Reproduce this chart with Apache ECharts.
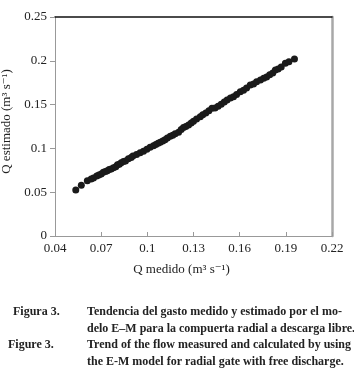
<!DOCTYPE html>
<html>
<head>
<meta charset="utf-8">
<script src="https://cdn.jsdelivr.net/npm/echarts@6/dist/echarts.min.js"></script>
<style>
  html, body { margin: 0; padding: 0; background: #fff; }
  #chart { width: 354px; height: 374px; }
</style>
</head>
<body>
<div id="chart"></div>
<script>
// Q medido (m3/s) - eje x
var qMedido = [0.0535, 0.0571, 0.0610, 0.0635, 0.0650, 0.0671, 0.0685, 0.0700, 0.0714, 0.0728,
  0.0740, 0.0752, 0.0765, 0.0780, 0.0795, 0.0806, 0.0818, 0.0830, 0.0845, 0.0858,
  0.0877, 0.0895, 0.0906, 0.0930, 0.0953, 0.0975, 0.0997, 0.1018, 0.1040, 0.1055,
  0.1070, 0.1084, 0.1100, 0.1115, 0.1130, 0.1149, 0.1165, 0.1181, 0.1203, 0.1220,
  0.1235, 0.1250, 0.1268, 0.1285, 0.1300, 0.1320, 0.1344, 0.1360, 0.1380, 0.1400,
  0.1420, 0.1440, 0.1460, 0.1480, 0.1500, 0.1518, 0.1540, 0.1560, 0.1580, 0.1604,
  0.1625, 0.1645, 0.1669, 0.1690, 0.1710, 0.1735, 0.1756, 0.1775, 0.1795, 0.1815,
  0.1832, 0.1850, 0.1870, 0.1897, 0.1920, 0.1956];
// Q estimado (m3/s) - eje y
var qEstimado = [0.0525, 0.0579, 0.0631, 0.0650, 0.0662, 0.0685, 0.0695, 0.0708, 0.0727, 0.0735,
  0.0745, 0.0758, 0.0765, 0.0779, 0.0791, 0.0814, 0.0818, 0.0837, 0.0850, 0.0856,
  0.0882, 0.0897, 0.0913, 0.0930, 0.0951, 0.0968, 0.0990, 0.1012, 0.1030, 0.1045,
  0.1058, 0.1070, 0.1085, 0.1100, 0.1118, 0.1140, 0.1150, 0.1168, 0.1185, 0.1215,
  0.1240, 0.1250, 0.1268, 0.1290, 0.1310, 0.1335, 0.1362, 0.1385, 0.1405, 0.1430,
  0.1458, 0.1462, 0.1480, 0.1505, 0.1530, 0.1553, 0.1575, 0.1590, 0.1615, 0.1647,
  0.1665, 0.1690, 0.1724, 0.1735, 0.1760, 0.1780, 0.1800, 0.1815, 0.1840, 0.1860,
  0.1895, 0.1905, 0.1930, 0.1972, 0.1990, 0.2021];

var xMin = 0.04, xMax = 0.22, xStep = 0.03;
var yMin = 0, yMax = 0.25, yStep = 0.05;

var captionLines = [
  ["Figura 3.", "Tendencia del gasto medido y estimado por el mo-"],
  ["", "delo E–M para la compuerta radial a descarga libre."],
  ["Figure 3.", "Trend of the flow measured and calculated by using"],
  ["", "the E-M model for radial gate with free discharge."]
];

var serif = "'Liberation Serif', 'DejaVu Serif', serif";
var points = [];
qMedido.forEach(function (x, i) {
  points.push([x, qEstimado[i]]);
});

function fmt(v) {
  return String(parseFloat(v.toFixed(2)));
}

var graphics = [];
captionLines.forEach(function (line, i) {
  var y = 313 + i * 16.7;
  if (line[0]) {
    graphics.push({
      type: "text", left: i === 0 ? 13 : 8, top: y - 7,
      style: { text: line[0], font: "bold 12px " + serif, fill: "#222" }
    });
  }
  graphics.push({
    type: "text", left: 87, top: y - 7,
    style: { text: line[1], font: "bold 12px " + serif, fill: "#222" }
  });
});

var chart = echarts.init(document.getElementById("chart"));
chart.setOption({
  animation: false,
  grid: { left: 55, right: 22, top: 17, bottom: 138, outerBoundsMode: "none", containLabel: false },
  xAxis: [
    {
      type: "value", min: xMin, max: xMax, interval: xStep,
      name: "Q medido (m³ s⁻¹)", nameLocation: "middle", nameGap: 27,
      nameTextStyle: { fontFamily: serif, fontSize: 13, color: "#222", padding: [0, 24, 0, 0] },
      axisLine: { onZero: false, lineStyle: { color: "#999", width: 1 } },
      axisTick: { inside: true, length: 4, lineStyle: { color: "#999" } },
      axisLabel: { fontFamily: serif, fontSize: 13, color: "#222", margin: 6, formatter: fmt },
      splitLine: { show: false }
    },
    {
      type: "value", position: "top", min: xMin, max: xMax,
      axisLine: { show: true, onZero: false, lineStyle: { color: "#111", width: 1.5 } },
      axisTick: { show: false }, axisLabel: { show: false }, splitLine: { show: false }
    }
  ],
  yAxis: [
    {
      type: "value", min: yMin, max: yMax, interval: yStep,
      name: "Q estimado (m³ s⁻¹)", nameLocation: "middle", nameGap: 38,
      nameTextStyle: { fontFamily: serif, fontSize: 13, color: "#222", padding: [0, 0, 0, 10] },
      axisLine: { show: true, onZero: false, lineStyle: { color: "#999", width: 1 } },
      axisTick: { show: true, length: 5, lineStyle: { color: "#999" } },
      axisLabel: { fontFamily: serif, fontSize: 13, color: "#222", margin: 8, formatter: fmt },
      splitLine: { show: false }
    },
    {
      type: "value", position: "right", min: yMin, max: yMax, interval: yStep,
      axisLine: { show: true, onZero: false, lineStyle: { color: "#a8a8a8", width: 2.5 } },
      axisTick: { show: false }, axisLabel: { show: false }, splitLine: { show: false }
    }
  ],
  series: [
    {
      name: "Q", type: "scatter", symbol: "circle", symbolSize: 7,
      itemStyle: { color: "#1a1a1a", opacity: 1 },
      data: points
    }
  ],
  graphic: graphics
});
</script>
</body>
</html>
